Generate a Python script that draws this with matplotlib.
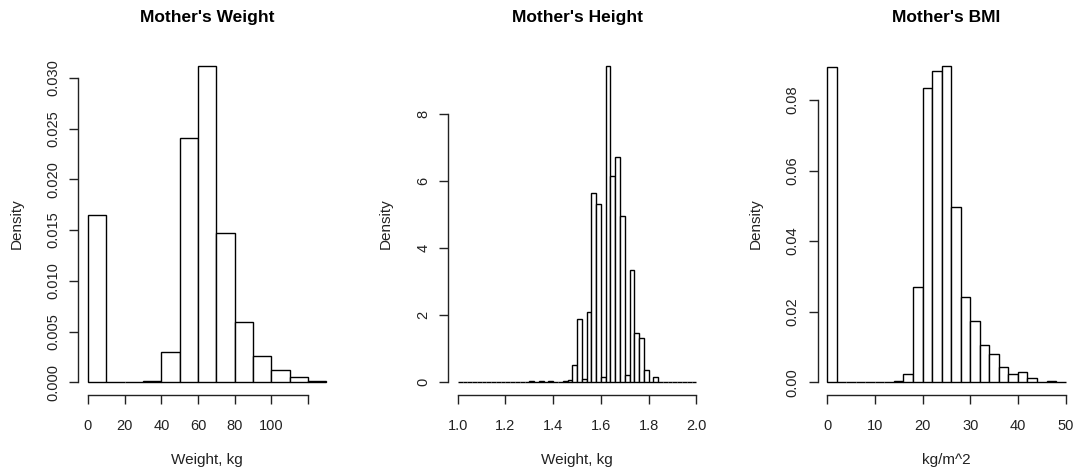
import numpy as np
import matplotlib
matplotlib.use("Agg")
from matplotlib import pyplot as plt

plt.rcParams['font.family'] = ['Liberation Sans', 'DejaVu Sans']

# Mother's weight, bins of 10 kg
weight_edges = np.arange(0, 131, 10)
weight_density = [0.0165, 0.0, 0.0, 0.00013, 0.00295, 0.0241, 0.0312,
                  0.0147, 0.00594, 0.00262, 0.00126, 0.00056, 0.00012]
weight_ticks = [0, 20, 40, 60, 80, 100, 120]
weight_ticklabels = ['0', '20', '40', '60', '80', '100', '']
weight_yticks = [0.0, 0.005, 0.010, 0.015, 0.020, 0.025, 0.030]
weight_yticklabels = ['0.000', '0.005', '0.010', '0.015', '0.020', '0.025', '0.030']

# Mother's height, bins of 0.02 m from 1.0 to 2.0
height_edges = np.linspace(1.0, 2.0, 51)
height_density = [0.0] * 15 + [
    0.03, 0.0, 0.03, 0.0, 0.05, 0.0, 0.0, 0.03, 0.08, 0.52,
    1.88, 0.09, 2.11, 5.64, 5.32, 0.17, 9.45, 6.17, 6.72, 4.95,
    0.22, 3.35, 1.46, 1.31, 0.37, 0.0, 0.17] + [0.0] * 8
height_ticks = [1.0, 1.2, 1.4, 1.6, 1.8, 2.0]
height_ticklabels = ['1.0', '1.2', '1.4', '1.6', '1.8', '2.0']
height_yticks = [0, 2, 4, 6, 8]
height_yticklabels = ['0', '2', '4', '6', '8']

# Mother's BMI, bins of 2
bmi_edges = np.arange(0, 51, 2)
bmi_density = [0.0894, 0, 0, 0, 0, 0, 0, 0.0003, 0.0024, 0.0271,
               0.0833, 0.0883, 0.0897, 0.0496, 0.0243, 0.0175, 0.0105,
               0.0080, 0.0043, 0.0024, 0.0028, 0.0011, 0.0001, 0.0005, 0.0]
bmi_ticks = [0, 10, 20, 30, 40, 50]
bmi_ticklabels = ['0', '10', '20', '30', '40', '50']
bmi_yticks = [0.0, 0.02, 0.04, 0.06, 0.08]
bmi_yticklabels = ['0.00', '0.02', '0.04', '0.06', '0.08']

panels = [
    ("Mother's Weight", 'Weight, kg', weight_edges, weight_density,
     weight_ticks, weight_ticklabels, weight_yticks, weight_yticklabels, 0.0728),
    ("Mother's Height", 'Weight, kg', height_edges, height_density,
     height_ticks, height_ticklabels, height_yticks, height_yticklabels, 0.4162),
    ("Mother's BMI", 'kg/m^2', bmi_edges, bmi_density,
     bmi_ticks, bmi_ticklabels, bmi_yticks, bmi_yticklabels, 0.7591),
]

fig = plt.figure(figsize=(10.77, 4.73), dpi=100)
W, H = 1077, 473
ax_w, ax_h = 0.2392, 0.7230

for title, xlab, edges, dens, xt, xtl, yt, ytl, left in panels:
    ax = fig.add_axes([left, 0.1649, ax_w, ax_h])
    edges = np.asarray(edges)
    ax.bar(edges[:-1], dens, width=np.diff(edges), align='edge',
           facecolor='white', edgecolor='black', linewidth=1.0)
    lo, hi = edges[0], edges[-1]
    ax.set_xlim(lo - 0.04 * (hi - lo), hi + 0.04 * (hi - lo))
    m = max(dens)
    ax.set_ylim(-0.04 * m, 1.04 * m)

    for s in ['top', 'right']:
        ax.spines[s].set_visible(False)
    ax.spines['left'].set_bounds(yt[0], yt[-1])
    ax.spines['bottom'].set_bounds(xt[0], xt[-1])
    for s in ['left', 'bottom']:
        ax.spines[s].set_linewidth(1.0)
        ax.spines[s].set_color('#222222')

    ax.set_xticks(xt)
    ax.set_xticklabels(xtl)
    ax.set_yticks(yt)
    ax.set_yticklabels(ytl, rotation=90, va='center')
    ax.tick_params(length=6.5, width=1.0, color='#222222', labelsize=10.5,
                   labelcolor='#222222', pad=6.5)
    ax.tick_params(axis='x', pad=10.5)

    ax.set_title(title, fontsize=12.5, fontweight='bold', pad=22)
    ax.set_xlabel(xlab, fontsize=11, color='#222222', va='center')
    ax.xaxis.set_label_coords(0.5, -65 / (ax_h * H))
    ax.set_ylabel('Density', fontsize=11, color='#222222', va='center')
    ax.yaxis.set_label_coords(-62 / (ax_w * W), 0.5)

fig.savefig('out.png', dpi=100)
